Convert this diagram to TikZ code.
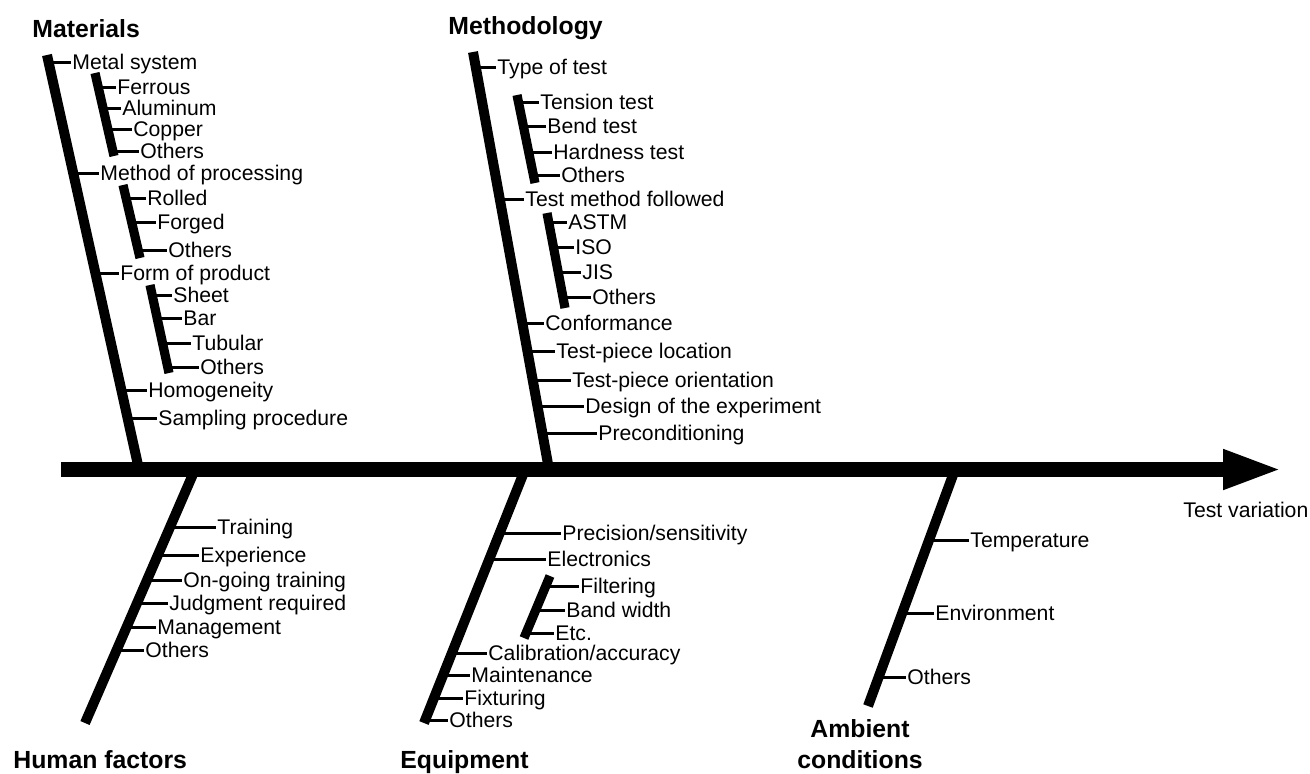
\documentclass[tikz,border=0pt]{standalone}
\usepackage{fontspec}
\setmainfont{Liberation Sans}
\usetikzlibrary{arrows.meta,calc}

% short horizontal twig from a bone (given by its two end coordinates) to a label
\newcommand\bonetick[3]{%
  \draw[tick] let \p1=(#1), \p2=(#2), \p3=(#3.west) in
    ({\x1+(\y3-\y1)/(\y2-\y1)*(\x2-\x1)},\y3) -- (\p3);}

\tikzset{
  lbl/.style={anchor=west, inner sep=0pt, font=\fontsize{10.6}{12}\selectfont,
              text height=7.6pt, text depth=0pt},
  head/.style={anchor=base west, inner sep=0pt, font=\bfseries\fontsize{12.4}{15.5}\selectfont},
  spine/.style={line width=7.5pt, -{Triangle[length=30pt,width=18pt]}},
  bone/.style={line width=5pt, line cap=butt},
  subbone/.style={line width=4.6pt, line cap=butt},
  tick/.style={line width=1.5pt, shorten >=0.6pt},
}

\begin{document}
\begin{tikzpicture}[x=0.5pt,y=-0.5pt]
\useasboundingbox (0,0) rectangle (1310,773);

% ---------- main spine ----------
\coordinate (tail) at (61,469.5);
\coordinate (head) at (1283,469.5);
\draw[spine] (tail) -- (head);
\node[lbl] (tv) at (1183,510) {Test variation};

% ---------- Materials ----------
\node[head] (hmat) at (32,37) {Materials};
\coordinate (m1) at (47,55);
\coordinate (m2) at (139,469.5);
\draw[bone] (m1) -- (m2);
\node[lbl] (ms) at (72,62) {Metal system};
\node[lbl] (mp) at (100,173) {Method of processing};
\node[lbl] (fp) at (120,273) {Form of product};
\node[lbl] (ho) at (148,390) {Homogeneity};
\node[lbl] (sp) at (158,418) {Sampling procedure};
\foreach \lb in {ms,mp,fp,ho,sp} {\bonetick{m1}{m2}{\lb}}

\coordinate (ma1) at (95,73);
\coordinate (ma2) at (114,156);
\draw[subbone] (ma1) -- (ma2);
\node[lbl] (fe) at (117,87) {Ferrous};
\node[lbl] (al) at (122,108) {Aluminum};
\node[lbl] (cu) at (133,129) {Copper};
\node[lbl] (oa) at (140,151) {Others};
\foreach \lb in {fe,al,cu,oa} {\bonetick{ma1}{ma2}{\lb}}

\coordinate (mb1) at (123,185);
\coordinate (mb2) at (140,258);
\draw[subbone] (mb1) -- (mb2);
\node[lbl] (ro) at (147,198) {Rolled};
\node[lbl] (fo) at (157,222) {Forged};
\node[lbl] (ob) at (168,250) {Others};
\foreach \lb in {ro,fo,ob} {\bonetick{mb1}{mb2}{\lb}}

\coordinate (mc1) at (150,285);
\coordinate (mc2) at (169,373);
\draw[subbone] (mc1) -- (mc2);
\node[lbl] (sh) at (173,295) {Sheet};
\node[lbl] (ba) at (183,318) {Bar};
\node[lbl] (tu) at (192,343) {Tubular};
\node[lbl] (oc) at (200,367) {Others};
\foreach \lb in {sh,ba,tu,oc} {\bonetick{mc1}{mc2}{\lb}}

% ---------- Methodology ----------
\node[head] (hmet) at (448,34) {Methodology};
\coordinate (t1) at (473,52);
\coordinate (t2) at (549,469.5);
\draw[bone] (t1) -- (t2);
\node[lbl] (tt) at (497,67) {Type of test};
\node[lbl] (tm) at (525,199) {Test method followed};
\node[lbl] (co) at (545,323) {Conformance};
\node[lbl] (tl) at (556,351) {Test-piece location};
\node[lbl] (to) at (572,380) {Test-piece orientation};
\node[lbl] (de) at (585,406) {Design of the experiment};
\node[lbl] (pr) at (598,433) {Preconditioning};
\foreach \lb in {tt,tm,co,tl,to,de,pr} {\bonetick{t1}{t2}{\lb}}

\coordinate (ta1) at (517,95);
\coordinate (ta2) at (535,183);
\draw[subbone] (ta1) -- (ta2);
\node[lbl] (te) at (540,102) {Tension test};
\node[lbl] (bt) at (547,126) {Bend test};
\node[lbl] (ht) at (553,152) {Hardness test};
\node[lbl] (oA) at (561,175) {Others};
\foreach \lb in {te,bt,ht,oA} {\bonetick{ta1}{ta2}{\lb}}

\coordinate (tb1) at (547,213);
\coordinate (tb2) at (565,308);
\draw[subbone] (tb1) -- (tb2);
\node[lbl] (as) at (568,222) {ASTM};
\node[lbl] (is) at (575,247) {ISO};
\node[lbl] (ji) at (582,272) {JIS};
\node[lbl] (oB) at (592,297) {Others};
\foreach \lb in {as,is,ji,oB} {\bonetick{tb1}{tb2}{\lb}}

% ---------- Human factors ----------
\node[head] (hhum) at (13,768) {Human factors};
\coordinate (h1) at (195,469.5);
\coordinate (h2) at (85,723);
\draw[bone] (h1) -- (h2);
\node[lbl] (tr) at (217,527) {Training};
\node[lbl] (ex) at (200,555) {Experience};
\node[lbl] (og) at (183,580) {On-going training};
\node[lbl] (ju) at (169,603) {Judgment required};
\node[lbl] (mg) at (157,627) {Management};
\node[lbl] (oh) at (145,650) {Others};
\foreach \lb in {tr,ex,og,ju,mg,oh} {\bonetick{h1}{h2}{\lb}}

% ---------- Equipment ----------
\node[head] (hequ) at (400,768) {Equipment};
\coordinate (e1) at (525,469.5);
\coordinate (e2) at (424,723);
\draw[bone] (e1) -- (e2);
\node[lbl] (ps) at (562,533) {Precision/sensitivity};
\node[lbl] (el) at (547,559) {Electronics};
\node[lbl] (ca) at (488,653) {Calibration/accuracy};
\node[lbl] (mn) at (471,675) {Maintenance};
\node[lbl] (fx) at (464,698) {Fixturing};
\node[lbl] (oe) at (449,720) {Others};
\foreach \lb in {ps,el,ca,mn,fx,oe} {\bonetick{e1}{e2}{\lb}}

\coordinate (ea1) at (550,576);
\coordinate (ea2) at (524,638);
\draw[subbone] (ea1) -- (ea2);
\node[lbl] (fi) at (580,586) {Filtering};
\node[lbl] (bw) at (566,610) {Band width};
\node[lbl] (et) at (555,633) {Etc.};
\foreach \lb in {fi,bw,et} {\bonetick{ea1}{ea2}{\lb}}

% ---------- Ambient conditions ----------
\node[anchor=south, inner sep=0pt, align=center,
      font=\bfseries\fontsize{12.4}{15.5}\selectfont] (hamb) at (860,769) {Ambient\\conditions};
\coordinate (a1) at (955,469.5);
\coordinate (a2) at (868,706);
\draw[bone] (a1) -- (a2);
\node[lbl] (tp) at (970,540) {Temperature};
\node[lbl] (en) at (935,613) {Environment};
\node[lbl] (oo) at (907,677) {Others};
\foreach \lb in {tp,en,oo} {\bonetick{a1}{a2}{\lb}}

\end{tikzpicture}
\end{document}
